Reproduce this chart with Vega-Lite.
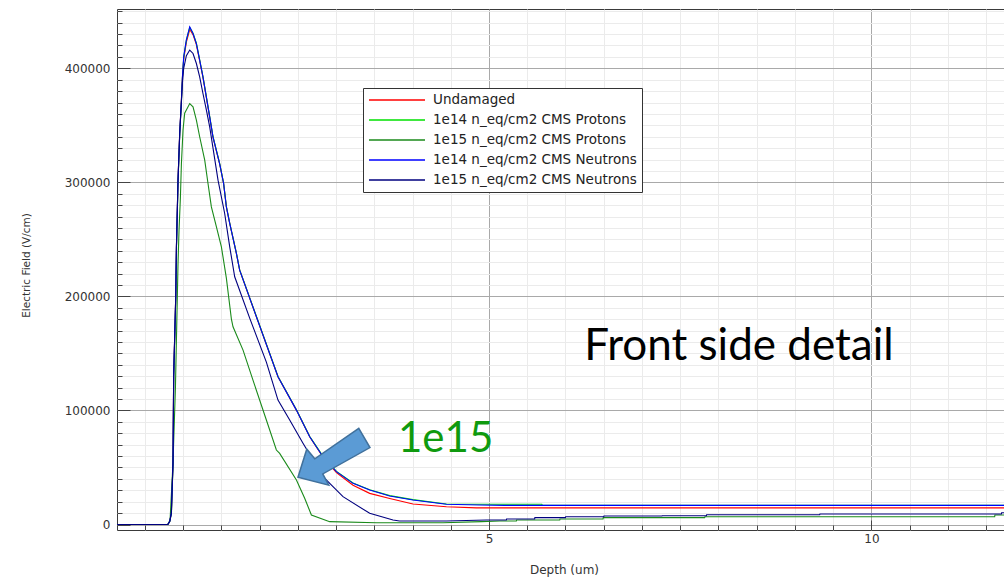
{
  "$schema": "https://vega.github.io/schema/vega-lite/v6.json",
  "width": 888,
  "height": 521,
  "autosize": "none",
  "padding": {"left": 117, "top": 9, "right": 0, "bottom": 47},
  "background": "white",
  "config": {
    "view": {"stroke": "#3a3a3a", "strokeWidth": 1},
    "font": "DejaVu Sans"
  },
  "resolve": {"axis": {"x": "independent", "y": "independent"}},
  "layer": [
    {
      "data": {
        "values": [
          {"series": "Undamaged", "depth": 0.14, "efield": 0},
          {"series": "Undamaged", "depth": 0.80, "efield": 0},
          {"series": "Undamaged", "depth": 0.825, "efield": 2500},
          {"series": "Undamaged", "depth": 0.847, "efield": 10000},
          {"series": "Undamaged", "depth": 0.868, "efield": 54000},
          {"series": "Undamaged", "depth": 0.877, "efield": 130000},
          {"series": "Undamaged", "depth": 0.904, "efield": 200000},
          {"series": "Undamaged", "depth": 0.913, "efield": 243000},
          {"series": "Undamaged", "depth": 0.934, "efield": 302000},
          {"series": "Undamaged", "depth": 0.956, "efield": 343000},
          {"series": "Undamaged", "depth": 0.978, "efield": 372000},
          {"series": "Undamaged", "depth": 0.991, "efield": 391000},
          {"series": "Undamaged", "depth": 1.008, "efield": 408000},
          {"series": "Undamaged", "depth": 1.043, "efield": 423000},
          {"series": "Undamaged", "depth": 1.087, "efield": 434000},
          {"series": "Undamaged", "depth": 1.130, "efield": 429500},
          {"series": "Undamaged", "depth": 1.174, "efield": 420700},
          {"series": "Undamaged", "depth": 1.217, "efield": 406500},
          {"series": "Undamaged", "depth": 1.260, "efield": 392000},
          {"series": "Undamaged", "depth": 1.348, "efield": 357000},
          {"series": "Undamaged", "depth": 1.391, "efield": 339500},
          {"series": "Undamaged", "depth": 1.479, "efield": 316000},
          {"series": "Undamaged", "depth": 1.530, "efield": 299000},
          {"series": "Undamaged", "depth": 1.566, "efield": 278500},
          {"series": "Undamaged", "depth": 1.610, "efield": 264000},
          {"series": "Undamaged", "depth": 1.697, "efield": 237700},
          {"series": "Undamaged", "depth": 1.740, "efield": 223000},
          {"series": "Undamaged", "depth": 2.241, "efield": 129500},
          {"series": "Undamaged", "depth": 2.482, "efield": 100300},
          {"series": "Undamaged", "depth": 2.656, "efield": 76900},
          {"series": "Undamaged", "depth": 2.743, "efield": 68000},
          {"series": "Undamaged", "depth": 2.830, "efield": 59000},
          {"series": "Undamaged", "depth": 3.005, "efield": 45500},
          {"series": "Undamaged", "depth": 3.222, "efield": 34500},
          {"series": "Undamaged", "depth": 3.440, "efield": 27300},
          {"series": "Undamaged", "depth": 3.702, "efield": 22800},
          {"series": "Undamaged", "depth": 4.006, "efield": 18000},
          {"series": "Undamaged", "depth": 4.443, "efield": 15600},
          {"series": "Undamaged", "depth": 4.835, "efield": 14600},
          {"series": "Undamaged", "depth": 11.747, "efield": 14600},

          {"series": "1e14 n_eq/cm2 CMS Protons", "depth": 0.14, "efield": 0},
          {"series": "1e14 n_eq/cm2 CMS Protons", "depth": 0.80, "efield": 0},
          {"series": "1e14 n_eq/cm2 CMS Protons", "depth": 0.826, "efield": 2500},
          {"series": "1e14 n_eq/cm2 CMS Protons", "depth": 0.848, "efield": 10000},
          {"series": "1e14 n_eq/cm2 CMS Protons", "depth": 0.869, "efield": 54000},
          {"series": "1e14 n_eq/cm2 CMS Protons", "depth": 0.878, "efield": 130000},
          {"series": "1e14 n_eq/cm2 CMS Protons", "depth": 0.905, "efield": 200000},
          {"series": "1e14 n_eq/cm2 CMS Protons", "depth": 0.914, "efield": 243000},
          {"series": "1e14 n_eq/cm2 CMS Protons", "depth": 0.935, "efield": 302000},
          {"series": "1e14 n_eq/cm2 CMS Protons", "depth": 0.957, "efield": 343000},
          {"series": "1e14 n_eq/cm2 CMS Protons", "depth": 0.979, "efield": 372000},
          {"series": "1e14 n_eq/cm2 CMS Protons", "depth": 0.992, "efield": 392000},
          {"series": "1e14 n_eq/cm2 CMS Protons", "depth": 1.009, "efield": 410000},
          {"series": "1e14 n_eq/cm2 CMS Protons", "depth": 1.044, "efield": 425000},
          {"series": "1e14 n_eq/cm2 CMS Protons", "depth": 1.087, "efield": 435800},
          {"series": "1e14 n_eq/cm2 CMS Protons", "depth": 1.130, "efield": 430800},
          {"series": "1e14 n_eq/cm2 CMS Protons", "depth": 1.174, "efield": 422000},
          {"series": "1e14 n_eq/cm2 CMS Protons", "depth": 1.217, "efield": 407500},
          {"series": "1e14 n_eq/cm2 CMS Protons", "depth": 1.260, "efield": 392800},
          {"series": "1e14 n_eq/cm2 CMS Protons", "depth": 1.348, "efield": 357800},
          {"series": "1e14 n_eq/cm2 CMS Protons", "depth": 1.391, "efield": 340200},
          {"series": "1e14 n_eq/cm2 CMS Protons", "depth": 1.479, "efield": 316500},
          {"series": "1e14 n_eq/cm2 CMS Protons", "depth": 1.530, "efield": 299300},
          {"series": "1e14 n_eq/cm2 CMS Protons", "depth": 1.566, "efield": 278800},
          {"series": "1e14 n_eq/cm2 CMS Protons", "depth": 1.610, "efield": 264300},
          {"series": "1e14 n_eq/cm2 CMS Protons", "depth": 1.697, "efield": 238000},
          {"series": "1e14 n_eq/cm2 CMS Protons", "depth": 1.740, "efield": 223300},
          {"series": "1e14 n_eq/cm2 CMS Protons", "depth": 2.241, "efield": 129800},
          {"series": "1e14 n_eq/cm2 CMS Protons", "depth": 2.482, "efield": 100600},
          {"series": "1e14 n_eq/cm2 CMS Protons", "depth": 2.656, "efield": 77200},
          {"series": "1e14 n_eq/cm2 CMS Protons", "depth": 2.743, "efield": 68500},
          {"series": "1e14 n_eq/cm2 CMS Protons", "depth": 2.830, "efield": 59700},
          {"series": "1e14 n_eq/cm2 CMS Protons", "depth": 3.005, "efield": 46600},
          {"series": "1e14 n_eq/cm2 CMS Protons", "depth": 3.222, "efield": 36400},
          {"series": "1e14 n_eq/cm2 CMS Protons", "depth": 3.440, "efield": 30500},
          {"series": "1e14 n_eq/cm2 CMS Protons", "depth": 3.702, "efield": 25300},
          {"series": "1e14 n_eq/cm2 CMS Protons", "depth": 4.006, "efield": 21800},
          {"series": "1e14 n_eq/cm2 CMS Protons", "depth": 4.443, "efield": 18000},
          {"series": "1e14 n_eq/cm2 CMS Protons", "depth": 4.878, "efield": 17800},
          {"series": "1e14 n_eq/cm2 CMS Protons", "depth": 5.690, "efield": 17800},
          {"series": "1e14 n_eq/cm2 CMS Protons", "depth": 5.700, "efield": 16800},
          {"series": "1e14 n_eq/cm2 CMS Protons", "depth": 11.747, "efield": 16800},

          {"series": "1e15 n_eq/cm2 CMS Protons", "depth": 0.14, "efield": 0},
          {"series": "1e15 n_eq/cm2 CMS Protons", "depth": 0.80, "efield": 0},
          {"series": "1e15 n_eq/cm2 CMS Protons", "depth": 0.830, "efield": 4000},
          {"series": "1e15 n_eq/cm2 CMS Protons", "depth": 0.868, "efield": 54000},
          {"series": "1e15 n_eq/cm2 CMS Protons", "depth": 0.900, "efield": 120000},
          {"series": "1e15 n_eq/cm2 CMS Protons", "depth": 0.934, "efield": 229000},
          {"series": "1e15 n_eq/cm2 CMS Protons", "depth": 0.947, "efield": 258000},
          {"series": "1e15 n_eq/cm2 CMS Protons", "depth": 0.965, "efield": 286800},
          {"series": "1e15 n_eq/cm2 CMS Protons", "depth": 0.978, "efield": 316000},
          {"series": "1e15 n_eq/cm2 CMS Protons", "depth": 0.999, "efield": 345700},
          {"series": "1e15 n_eq/cm2 CMS Protons", "depth": 1.021, "efield": 360600},
          {"series": "1e15 n_eq/cm2 CMS Protons", "depth": 1.087, "efield": 369100},
          {"series": "1e15 n_eq/cm2 CMS Protons", "depth": 1.130, "efield": 366200},
          {"series": "1e15 n_eq/cm2 CMS Protons", "depth": 1.174, "efield": 354500},
          {"series": "1e15 n_eq/cm2 CMS Protons", "depth": 1.217, "efield": 340000},
          {"series": "1e15 n_eq/cm2 CMS Protons", "depth": 1.283, "efield": 319500},
          {"series": "1e15 n_eq/cm2 CMS Protons", "depth": 1.326, "efield": 299000},
          {"series": "1e15 n_eq/cm2 CMS Protons", "depth": 1.370, "efield": 278500},
          {"series": "1e15 n_eq/cm2 CMS Protons", "depth": 1.436, "efield": 261000},
          {"series": "1e15 n_eq/cm2 CMS Protons", "depth": 1.501, "efield": 243500},
          {"series": "1e15 n_eq/cm2 CMS Protons", "depth": 1.566, "efield": 216000},
          {"series": "1e15 n_eq/cm2 CMS Protons", "depth": 1.632, "efield": 180000},
          {"series": "1e15 n_eq/cm2 CMS Protons", "depth": 1.653, "efield": 173400},
          {"series": "1e15 n_eq/cm2 CMS Protons", "depth": 1.784, "efield": 152900},
          {"series": "1e15 n_eq/cm2 CMS Protons", "depth": 1.914, "efield": 126600},
          {"series": "1e15 n_eq/cm2 CMS Protons", "depth": 2.089, "efield": 91600},
          {"series": "1e15 n_eq/cm2 CMS Protons", "depth": 2.220, "efield": 65300},
          {"series": "1e15 n_eq/cm2 CMS Protons", "depth": 2.263, "efield": 62400},
          {"series": "1e15 n_eq/cm2 CMS Protons", "depth": 2.482, "efield": 39000},
          {"series": "1e15 n_eq/cm2 CMS Protons", "depth": 2.590, "efield": 23000},
          {"series": "1e15 n_eq/cm2 CMS Protons", "depth": 2.678, "efield": 8300},
          {"series": "1e15 n_eq/cm2 CMS Protons", "depth": 2.917, "efield": 2500},
          {"series": "1e15 n_eq/cm2 CMS Protons", "depth": 3.528, "efield": 1600},
          {"series": "1e15 n_eq/cm2 CMS Protons", "depth": 4.400, "efield": 1600},
          {"series": "1e15 n_eq/cm2 CMS Protons", "depth": 4.900, "efield": 2500},
          {"series": "1e15 n_eq/cm2 CMS Protons", "depth": 5.140, "efield": 3100},
          {"series": "1e15 n_eq/cm2 CMS Protons", "depth": 5.358, "efield": 3100},
          {"series": "1e15 n_eq/cm2 CMS Protons", "depth": 5.361, "efield": 3900},
          {"series": "1e15 n_eq/cm2 CMS Protons", "depth": 5.925, "efield": 3900},
          {"series": "1e15 n_eq/cm2 CMS Protons", "depth": 5.928, "efield": 4800},
          {"series": "1e15 n_eq/cm2 CMS Protons", "depth": 6.491, "efield": 4800},
          {"series": "1e15 n_eq/cm2 CMS Protons", "depth": 6.494, "efield": 6000},
          {"series": "1e15 n_eq/cm2 CMS Protons", "depth": 7.820, "efield": 6000},
          {"series": "1e15 n_eq/cm2 CMS Protons", "depth": 7.823, "efield": 6800},
          {"series": "1e15 n_eq/cm2 CMS Protons", "depth": 11.612, "efield": 6800},
          {"series": "1e15 n_eq/cm2 CMS Protons", "depth": 11.615, "efield": 8300},
          {"series": "1e15 n_eq/cm2 CMS Protons", "depth": 11.747, "efield": 8300},

          {"series": "1e14 n_eq/cm2 CMS Neutrons", "depth": 0.14, "efield": 0},
          {"series": "1e14 n_eq/cm2 CMS Neutrons", "depth": 0.80, "efield": 0},
          {"series": "1e14 n_eq/cm2 CMS Neutrons", "depth": 0.825, "efield": 2500},
          {"series": "1e14 n_eq/cm2 CMS Neutrons", "depth": 0.847, "efield": 10000},
          {"series": "1e14 n_eq/cm2 CMS Neutrons", "depth": 0.868, "efield": 54000},
          {"series": "1e14 n_eq/cm2 CMS Neutrons", "depth": 0.877, "efield": 130000},
          {"series": "1e14 n_eq/cm2 CMS Neutrons", "depth": 0.904, "efield": 200000},
          {"series": "1e14 n_eq/cm2 CMS Neutrons", "depth": 0.913, "efield": 243000},
          {"series": "1e14 n_eq/cm2 CMS Neutrons", "depth": 0.934, "efield": 302000},
          {"series": "1e14 n_eq/cm2 CMS Neutrons", "depth": 0.956, "efield": 343000},
          {"series": "1e14 n_eq/cm2 CMS Neutrons", "depth": 0.978, "efield": 372000},
          {"series": "1e14 n_eq/cm2 CMS Neutrons", "depth": 0.991, "efield": 392000},
          {"series": "1e14 n_eq/cm2 CMS Neutrons", "depth": 1.008, "efield": 410000},
          {"series": "1e14 n_eq/cm2 CMS Neutrons", "depth": 1.043, "efield": 425000},
          {"series": "1e14 n_eq/cm2 CMS Neutrons", "depth": 1.087, "efield": 436300},
          {"series": "1e14 n_eq/cm2 CMS Neutrons", "depth": 1.130, "efield": 430500},
          {"series": "1e14 n_eq/cm2 CMS Neutrons", "depth": 1.174, "efield": 421700},
          {"series": "1e14 n_eq/cm2 CMS Neutrons", "depth": 1.217, "efield": 407100},
          {"series": "1e14 n_eq/cm2 CMS Neutrons", "depth": 1.260, "efield": 392500},
          {"series": "1e14 n_eq/cm2 CMS Neutrons", "depth": 1.348, "efield": 357400},
          {"series": "1e14 n_eq/cm2 CMS Neutrons", "depth": 1.391, "efield": 339900},
          {"series": "1e14 n_eq/cm2 CMS Neutrons", "depth": 1.479, "efield": 316000},
          {"series": "1e14 n_eq/cm2 CMS Neutrons", "depth": 1.530, "efield": 299000},
          {"series": "1e14 n_eq/cm2 CMS Neutrons", "depth": 1.566, "efield": 278500},
          {"series": "1e14 n_eq/cm2 CMS Neutrons", "depth": 1.610, "efield": 264000},
          {"series": "1e14 n_eq/cm2 CMS Neutrons", "depth": 1.697, "efield": 237700},
          {"series": "1e14 n_eq/cm2 CMS Neutrons", "depth": 1.740, "efield": 223000},
          {"series": "1e14 n_eq/cm2 CMS Neutrons", "depth": 2.241, "efield": 129500},
          {"series": "1e14 n_eq/cm2 CMS Neutrons", "depth": 2.482, "efield": 100300},
          {"series": "1e14 n_eq/cm2 CMS Neutrons", "depth": 2.656, "efield": 76900},
          {"series": "1e14 n_eq/cm2 CMS Neutrons", "depth": 2.743, "efield": 68200},
          {"series": "1e14 n_eq/cm2 CMS Neutrons", "depth": 2.830, "efield": 59400},
          {"series": "1e14 n_eq/cm2 CMS Neutrons", "depth": 3.005, "efield": 46300},
          {"series": "1e14 n_eq/cm2 CMS Neutrons", "depth": 3.222, "efield": 36100},
          {"series": "1e14 n_eq/cm2 CMS Neutrons", "depth": 3.440, "efield": 30200},
          {"series": "1e14 n_eq/cm2 CMS Neutrons", "depth": 3.702, "efield": 25000},
          {"series": "1e14 n_eq/cm2 CMS Neutrons", "depth": 4.006, "efield": 21500},
          {"series": "1e14 n_eq/cm2 CMS Neutrons", "depth": 4.443, "efield": 17700},
          {"series": "1e14 n_eq/cm2 CMS Neutrons", "depth": 4.878, "efield": 17100},
          {"series": "1e14 n_eq/cm2 CMS Neutrons", "depth": 5.200, "efield": 16800},
          {"series": "1e14 n_eq/cm2 CMS Neutrons", "depth": 11.747, "efield": 16800},

          {"series": "1e15 n_eq/cm2 CMS Neutrons", "depth": 0.14, "efield": 0},
          {"series": "1e15 n_eq/cm2 CMS Neutrons", "depth": 0.80, "efield": 0},
          {"series": "1e15 n_eq/cm2 CMS Neutrons", "depth": 0.825, "efield": 2500},
          {"series": "1e15 n_eq/cm2 CMS Neutrons", "depth": 0.847, "efield": 10000},
          {"series": "1e15 n_eq/cm2 CMS Neutrons", "depth": 0.868, "efield": 54000},
          {"series": "1e15 n_eq/cm2 CMS Neutrons", "depth": 0.877, "efield": 130000},
          {"series": "1e15 n_eq/cm2 CMS Neutrons", "depth": 0.904, "efield": 200000},
          {"series": "1e15 n_eq/cm2 CMS Neutrons", "depth": 0.913, "efield": 243000},
          {"series": "1e15 n_eq/cm2 CMS Neutrons", "depth": 0.934, "efield": 302000},
          {"series": "1e15 n_eq/cm2 CMS Neutrons", "depth": 0.956, "efield": 343000},
          {"series": "1e15 n_eq/cm2 CMS Neutrons", "depth": 0.978, "efield": 370000},
          {"series": "1e15 n_eq/cm2 CMS Neutrons", "depth": 0.991, "efield": 387000},
          {"series": "1e15 n_eq/cm2 CMS Neutrons", "depth": 1.008, "efield": 400000},
          {"series": "1e15 n_eq/cm2 CMS Neutrons", "depth": 1.043, "efield": 411000},
          {"series": "1e15 n_eq/cm2 CMS Neutrons", "depth": 1.087, "efield": 416000},
          {"series": "1e15 n_eq/cm2 CMS Neutrons", "depth": 1.130, "efield": 413000},
          {"series": "1e15 n_eq/cm2 CMS Neutrons", "depth": 1.174, "efield": 404200},
          {"series": "1e15 n_eq/cm2 CMS Neutrons", "depth": 1.217, "efield": 392500},
          {"series": "1e15 n_eq/cm2 CMS Neutrons", "depth": 1.260, "efield": 377900},
          {"series": "1e15 n_eq/cm2 CMS Neutrons", "depth": 1.305, "efield": 363300},
          {"series": "1e15 n_eq/cm2 CMS Neutrons", "depth": 1.348, "efield": 348600},
          {"series": "1e15 n_eq/cm2 CMS Neutrons", "depth": 1.457, "efield": 301900},
          {"series": "1e15 n_eq/cm2 CMS Neutrons", "depth": 1.544, "efield": 272700},
          {"series": "1e15 n_eq/cm2 CMS Neutrons", "depth": 1.610, "efield": 243500},
          {"series": "1e15 n_eq/cm2 CMS Neutrons", "depth": 1.675, "efield": 217200},
          {"series": "1e15 n_eq/cm2 CMS Neutrons", "depth": 1.871, "efield": 181000},
          {"series": "1e15 n_eq/cm2 CMS Neutrons", "depth": 2.089, "efield": 142400},
          {"series": "1e15 n_eq/cm2 CMS Neutrons", "depth": 2.241, "efield": 109100},
          {"series": "1e15 n_eq/cm2 CMS Neutrons", "depth": 2.394, "efield": 91600},
          {"series": "1e15 n_eq/cm2 CMS Neutrons", "depth": 2.568, "efield": 71200},
          {"series": "1e15 n_eq/cm2 CMS Neutrons", "depth": 2.830, "efield": 41900},
          {"series": "1e15 n_eq/cm2 CMS Neutrons", "depth": 3.091, "efield": 24400},
          {"series": "1e15 n_eq/cm2 CMS Neutrons", "depth": 3.440, "efield": 9800},
          {"series": "1e15 n_eq/cm2 CMS Neutrons", "depth": 3.745, "efield": 3900},
          {"series": "1e15 n_eq/cm2 CMS Neutrons", "depth": 3.830, "efield": 3100},
          {"series": "1e15 n_eq/cm2 CMS Neutrons", "depth": 4.443, "efield": 3100},
          {"series": "1e15 n_eq/cm2 CMS Neutrons", "depth": 4.966, "efield": 3900},
          {"series": "1e15 n_eq/cm2 CMS Neutrons", "depth": 5.227, "efield": 3900},
          {"series": "1e15 n_eq/cm2 CMS Neutrons", "depth": 5.230, "efield": 4800},
          {"series": "1e15 n_eq/cm2 CMS Neutrons", "depth": 5.597, "efield": 4800},
          {"series": "1e15 n_eq/cm2 CMS Neutrons", "depth": 5.600, "efield": 6000},
          {"series": "1e15 n_eq/cm2 CMS Neutrons", "depth": 5.999, "efield": 6000},
          {"series": "1e15 n_eq/cm2 CMS Neutrons", "depth": 6.002, "efield": 6800},
          {"series": "1e15 n_eq/cm2 CMS Neutrons", "depth": 6.500, "efield": 6800},
          {"series": "1e15 n_eq/cm2 CMS Neutrons", "depth": 6.503, "efield": 7400},
          {"series": "1e15 n_eq/cm2 CMS Neutrons", "depth": 7.262, "efield": 7400},
          {"series": "1e15 n_eq/cm2 CMS Neutrons", "depth": 7.265, "efield": 7700},
          {"series": "1e15 n_eq/cm2 CMS Neutrons", "depth": 7.843, "efield": 7700},
          {"series": "1e15 n_eq/cm2 CMS Neutrons", "depth": 7.846, "efield": 8600},
          {"series": "1e15 n_eq/cm2 CMS Neutrons", "depth": 9.324, "efield": 8600},
          {"series": "1e15 n_eq/cm2 CMS Neutrons", "depth": 9.327, "efield": 9200},
          {"series": "1e15 n_eq/cm2 CMS Neutrons", "depth": 11.700, "efield": 9200},
          {"series": "1e15 n_eq/cm2 CMS Neutrons", "depth": 11.703, "efield": 10300},
          {"series": "1e15 n_eq/cm2 CMS Neutrons", "depth": 11.747, "efield": 10300}
        ]
      },
      "mark": {"type": "line", "strokeWidth": 1.1, "interpolate": "linear"},
      "encoding": {
        "x": {
          "field": "depth",
          "type": "quantitative",
          "scale": {"domain": [0.136, 11.747], "nice": false, "zero": false},
          "axis": {
            "orient": "bottom",
            "values": [0.5, 1, 1.5, 2, 2.5, 3, 3.5, 4, 4.5, 5, 5.5, 6, 6.5, 7, 7.5, 8, 8.5, 9, 9.5, 10, 10.5, 11, 11.5],
            "labelExpr": "(datum.value === 5 || datum.value === 10) ? format(datum.value, '.0f') : ''",
            "labelOverlap": false,
            "labelFont": "DejaVu Sans",
            "labelFontSize": 12,
            "labelColor": "#333333",
            "labelPadding": 13,
            "domain": false,
            "grid": true,
            "gridColor": {"condition": {"test": "datum.value === 5 || datum.value === 10", "value": "#a9a9a9"}, "value": "#ebebeb"},
            "gridWidth": 1,
            "tickColor": "#444444",
            "tickSize": {"condition": {"test": "datum.value === 5 || datum.value === 10", "value": -10}, "value": -5},
            "title": "Depth (um)",
            "titleFont": "DejaVu Sans",
            "titleFontSize": 12,
            "titleFontWeight": "normal",
            "titleColor": "#333333",
            "titleX": 447,
            "titleY": 39,
            "titleAlign": "center",
            "titleBaseline": "middle"
          }
        },
        "y": {
          "field": "efield",
          "type": "quantitative",
          "scale": {"domain": [-4820, 452000], "nice": false, "zero": false},
          "axis": {
            "orient": "left",
            "values": [0, 10000, 20000, 30000, 40000, 50000, 60000, 70000, 80000, 90000, 100000, 110000, 120000, 130000, 140000, 150000, 160000, 170000, 180000, 190000, 200000, 210000, 220000, 230000, 240000, 250000, 260000, 270000, 280000, 290000, 300000, 310000, 320000, 330000, 340000, 350000, 360000, 370000, 380000, 390000, 400000, 410000, 420000, 430000, 440000, 450000],
            "format": "d",
            "labelExpr": "datum.value % 100000 === 0 ? datum.label : ''",
            "labelOverlap": false,
            "labelFont": "DejaVu Sans",
            "labelFontSize": 12,
            "labelColor": "#333333",
            "labelPadding": 20,
            "domain": false,
            "grid": true,
            "gridColor": {"condition": {"test": "datum.value % 100000 === 0", "value": "#a9a9a9"}, "value": "#ebebeb"},
            "gridWidth": 1,
            "tickColor": "#444444",
            "tickSize": {"condition": {"test": "datum.value % 100000 === 0", "value": -13}, "value": -5},
            "title": "Electric Field (V/cm)",
            "titleFont": "DejaVu Sans",
            "titleFontSize": 10.5,
            "titleFontWeight": "normal",
            "titleColor": "#333333",
            "titleX": -91,
            "titleY": 256,
            "titleAlign": "center",
            "titleBaseline": "middle"
          }
        },
        "color": {
          "field": "series",
          "type": "nominal",
          "scale": {
            "domain": ["Undamaged", "1e14 n_eq/cm2 CMS Protons", "1e15 n_eq/cm2 CMS Protons", "1e14 n_eq/cm2 CMS Neutrons", "1e15 n_eq/cm2 CMS Neutrons"],
            "range": ["#ff0000", "#00e000", "#1a8a1a", "#0000ff", "#00007f"]
          },
          "legend": {
            "orient": "none",
            "legendX": 246,
            "legendY": 79,
            "title": null,
            "symbolType": "stroke",
            "symbolSize": 3136,
            "symbolStrokeWidth": 1.5,
            "clipHeight": 14,
            "rowPadding": 6,
            "labelOffset": 7,
            "labelLimit": 400,
            "labelFont": "DejaVu Sans",
            "labelFontSize": 13.5,
            "labelColor": "#222222",
            "padding": 5,
            "fillColor": "white",
            "strokeColor": "#333333",
            "cornerRadius": 0
          }
        },
        "order": {"field": "depth", "type": "quantitative"}
      }
    },
    {
      "data": {"values": [{}]},
      "mark": {
        "type": "point",
        "shape": "M-0.9,0.51L-0.68,-0.19L-0.48,0.05L0.62,-0.71L0.9,-0.23L-0.28,0.43L-0.13,0.71Z",
        "size": 6400,
        "filled": true,
        "fill": "#5b9bd5",
        "stroke": "#41719c",
        "strokeWidth": 1.5,
        "opacity": 1
      },
      "encoding": {
        "x": {"datum": 2.973, "type": "quantitative", "axis": null},
        "y": {"datum": 59400, "type": "quantitative", "axis": null}
      }
    },
    {
      "data": {"values": [{}]},
      "mark": {"type": "text", "font": "Lato", "fontSize": 42, "color": "#0f9a0f", "align": "left", "baseline": "alphabetic"},
      "encoding": {
        "x": {"datum": 3.81, "type": "quantitative", "axis": null},
        "y": {"datum": 63800, "type": "quantitative", "axis": null},
        "text": {"value": "1e15"}
      }
    },
    {
      "data": {"values": [{}]},
      "mark": {"type": "text", "font": "Lato", "fontSize": 44, "color": "#000000", "align": "left", "baseline": "alphabetic"},
      "encoding": {
        "x": {"datum": 6.245, "type": "quantitative", "axis": null},
        "y": {"datum": 143900, "type": "quantitative", "axis": null},
        "text": {"value": "Front side detail"}
      }
    }
  ]
}
